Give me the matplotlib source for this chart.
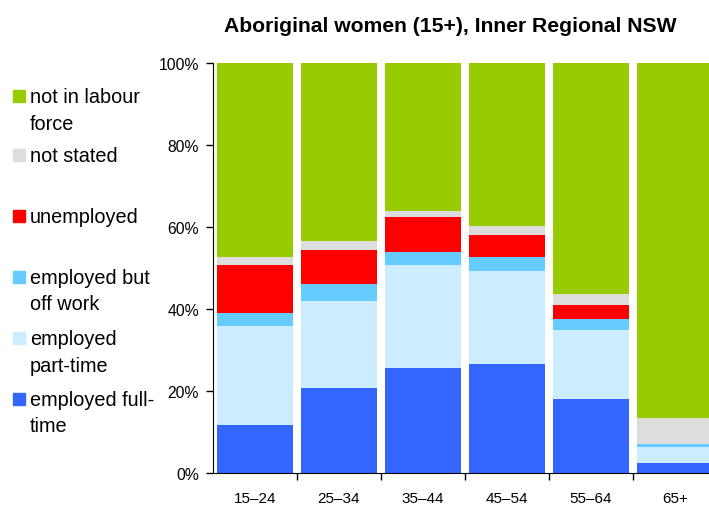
from matplotlib import pyplot as plt
from matplotlib import patches as pts
import numpy as np

plt.rcParams['font.family'] = ['Liberation Sans', 'DejaVu Sans']

ages = ['15–24', '25–34', '35–44', '45–54', '55–64', '65+']
# shares in % (stacked bottom to top)
full_time = [11.7, 20.7, 25.7, 26.7, 18.0, 2.4]
part_time = [24.2, 21.3, 25.0, 22.6, 16.9, 3.9]
off_work = [3.1, 4.1, 3.2, 3.3, 2.7, 0.8]
unemployed = [11.7, 8.4, 8.5, 5.5, 3.4, 0.0]
not_stated = [1.9, 2.1, 1.5, 2.1, 2.7, 6.3]
not_in_lf = [47.4, 43.4, 36.1, 39.8, 56.3, 86.6]

series = [full_time, part_time, off_work, unemployed, not_stated, not_in_lf]
colours = ['#3366FF', '#CCECFF', '#66CCFF', '#FF0000', '#DDDDDD', '#99CC00']
labels = ['employed full-\ntime', 'employed\npart-time', 'employed but\noff work',
          'unemployed', 'not stated', 'not in labour\nforce']

fig = plt.figure(figsize=(7.09, 5.06), dpi=100)
ax = fig.add_axes([213/709, 1-474/506, 504/709, 410/506])

x = np.arange(len(ages))
bottom = np.zeros(len(ages))
for vals, c in zip(series, colours):
    ax.bar(x, vals, width=0.905, bottom=bottom, color=c, linewidth=0)
    bottom = bottom + np.array(vals)

ax.set_xlim(-0.5, 5.5)
ax.set_ylim(0, 100)
ax.set_yticks(np.arange(0, 101, 20))
ax.set_yticklabels(['{}%'.format(v) for v in range(0, 101, 20)], fontsize=11.3)
ax.set_xticks(x)
ax.set_xticklabels(ages, fontsize=11)
ax.tick_params(axis='x', length=0, pad=13)
ax.set_xticks(np.arange(0.5, 5.5, 1), minor=True)
ax.tick_params(axis='x', which='minor', length=5, width=1)
ax.tick_params(axis='y', length=5, width=1, pad=5)
for s in ['top', 'right']:
    ax.spines[s].set_visible(False)

fig.text(450/709, 1-27/506, 'Aboriginal women (15+), Inner Regional NSW',
         ha='center', va='center', fontsize=15.2, fontweight='bold')

# legend drawn by hand, top entry first
ys = [97, 156, 217, 278, 339, 400]
for yy, c, lab in zip(ys, colours[::-1], labels[::-1]):
    fig.patches.append(pts.Rectangle((13/709, 1-(yy+6)/506), 12/709, 12/506,
                                     transform=fig.transFigure, color=c))
    fig.text(30/709, 1-(yy-9)/506, lab, ha='left', va='top', fontsize=14.3,
             linespacing=1.5)

fig.savefig('out.png', dpi=100)
